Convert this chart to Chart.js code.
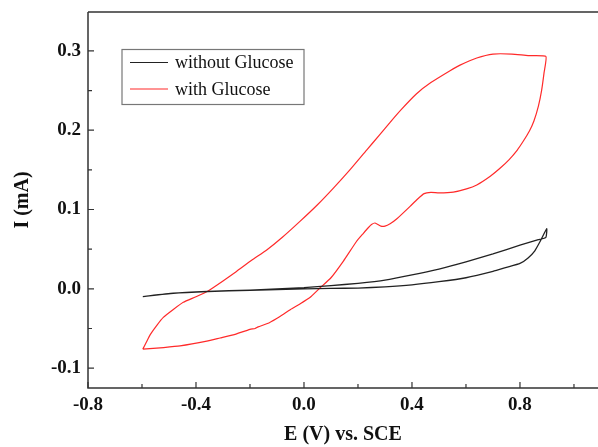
<!DOCTYPE html>
<html>
<head>
<meta charset="utf-8">
<script src="https://cdn.jsdelivr.net/npm/chart.js@4.4.0/dist/chart.umd.min.js"></script>
<style>
  html, body { margin: 0; padding: 0; background: #fff; }
  #wrap { width: 598px; height: 447px; position: relative; }
</style>
</head>
<body>
<div id="wrap"><canvas id="chart"></canvas></div>
<script>
// potentials (V vs. SCE) and currents (mA)
const blankE = [-0.597, -0.484, -0.357, -0.2, 0.0, 0.1, 0.2, 0.3, 0.4, 0.5, 0.6, 0.7, 0.75, 0.8, 0.83, 0.855, 0.875, 0.899,
  0.896, 0.868, 0.8, 0.7, 0.6, 0.5, 0.4, 0.3, 0.2, 0.1, 0.0, -0.2, -0.357, -0.484, -0.597];
const blankI = [-0.0097, -0.0058, -0.0036, -0.0018, 0.0, 0.0005, 0.001, 0.0025, 0.005, 0.009, 0.014, 0.022, 0.027, 0.032, 0.039, 0.048, 0.060, 0.0757,
  0.065, 0.062, 0.055, 0.044, 0.034, 0.025, 0.0175, 0.011, 0.007, 0.004, 0.0015, -0.0015, -0.0033, -0.0055, -0.0097];

const glucoseE = [-0.597, -0.585, -0.570, -0.545, -0.521, -0.484, -0.447, -0.40, -0.357, -0.30, -0.25, -0.194, -0.138, -0.08, -0.015,
  0.05, 0.109, 0.17, 0.232, 0.28, 0.319, 0.36, 0.417, 0.47, 0.541, 0.578, 0.64, 0.70, 0.77, 0.83, 0.896,
  0.889, 0.880, 0.868, 0.852, 0.835, 0.812, 0.790, 0.760, 0.726, 0.690, 0.640, 0.602, 0.553, 0.50, 0.47, 0.445, 0.42,
  0.393, 0.343, 0.319, 0.30, 0.285, 0.263, 0.250, 0.238, 0.22, 0.195, 0.146, 0.10, 0.059, 0.022, -0.015, -0.05, -0.089,
  -0.13, -0.170, -0.181, -0.2, -0.262, -0.311, -0.36, -0.459, -0.52, -0.597];
const glucoseI = [-0.076, -0.068, -0.058, -0.046, -0.036, -0.026, -0.017, -0.010, -0.003, 0.010, 0.022, 0.036, 0.049, 0.065, 0.085,
  0.106, 0.127, 0.150, 0.175, 0.194, 0.210, 0.226, 0.246, 0.260, 0.275, 0.282, 0.291, 0.296, 0.296, 0.294, 0.293,
  0.272, 0.250, 0.230, 0.212, 0.199, 0.186, 0.175, 0.163, 0.152, 0.142, 0.131, 0.126, 0.122, 0.121, 0.1215, 0.120, 0.113,
  0.104, 0.088, 0.082, 0.079, 0.079, 0.083, 0.081, 0.077, 0.070, 0.060, 0.035, 0.014, 0.001, -0.011, -0.019, -0.026, -0.035,
  -0.043, -0.048, -0.050, -0.051, -0.058, -0.062, -0.066, -0.072, -0.074, -0.076];

const seriesNames = ["without Glucose", "with Glucose"];
const xMajor = [-0.8, -0.4, 0.0, 0.4, 0.8];
const xMinor = [-0.6, -0.2, 0.2, 0.6, 1.0];
const yMajor = [-0.1, 0.0, 0.1, 0.2, 0.3];
const yMinor = [-0.05, 0.05, 0.15, 0.25];

const toPts = (xs, ys) => xs.map((x, i) => ({ x: x, y: ys[i] }));
const serif = "'Liberation Serif', 'Times New Roman', serif";
const axisColor = "#333";

// frame, inward ticks and the legend box
const framePlugin = {
  id: "frame",
  afterDraw(chart) {
    const ctx = chart.ctx;
    const a = chart.chartArea;
    const xs = chart.scales.x, ys = chart.scales.y;
    ctx.save();
    ctx.strokeStyle = axisColor;
    ctx.lineWidth = 1.5;
    ctx.beginPath();
    ctx.moveTo(a.left, a.top);
    ctx.lineTo(a.right, a.top);
    ctx.moveTo(a.left, a.top);
    ctx.lineTo(a.left, a.bottom);
    ctx.lineTo(a.right, a.bottom);
    ctx.stroke();

    ctx.lineWidth = 1.2;
    ctx.beginPath();
    xMajor.concat(xMinor).forEach(v => {
      const px = xs.getPixelForValue(v);
      const len = xMajor.includes(v) ? 6 : 4;
      ctx.moveTo(px, a.bottom);
      ctx.lineTo(px, a.bottom - len);
    });
    yMajor.concat(yMinor).forEach(v => {
      const py = ys.getPixelForValue(v);
      const len = yMajor.includes(v) ? 6 : 4;
      ctx.moveTo(a.left, py);
      ctx.lineTo(a.left + len, py);
    });
    ctx.stroke();

    // legend
    ctx.strokeStyle = "#777";
    ctx.lineWidth = 1.2;
    ctx.strokeRect(122, 49.5, 182, 55);
    const rows = [62.5, 89];
    chart.data.datasets.forEach((ds, i) => {
      ctx.strokeStyle = ds.borderColor;
      ctx.lineWidth = 1.2;
      ctx.beginPath();
      ctx.moveTo(130, rows[i]);
      ctx.lineTo(168, rows[i]);
      ctx.stroke();
      ctx.fillStyle = "#111";
      ctx.font = "18px " + serif;
      ctx.textBaseline = "middle";
      ctx.fillText(ds.label, 175, rows[i] + 1);
    });
    ctx.restore();
  }
};

new Chart(document.getElementById("chart"), {
  type: "scatter",
  data: {
    datasets: [
      {
        label: seriesNames[0],
        data: toPts(blankE, blankI),
        showLine: true,
        borderColor: "#222",
        borderWidth: 1.3,
        pointRadius: 0,
        tension: 0.15
      },
      {
        label: seriesNames[1],
        data: toPts(glucoseE, glucoseI),
        showLine: true,
        borderColor: "#ff2a2a",
        borderWidth: 1.2,
        pointRadius: 0,
        tension: 0.15
      }
    ]
  },
  options: {
    responsive: true,
    maintainAspectRatio: false,
    animation: false,
    layout: { padding: { top: 12, right: 0, left: 0, bottom: 0 } },
    plugins: { legend: { display: false }, tooltip: { enabled: false } },
    scales: {
      x: {
        type: "linear",
        min: -0.8,
        max: 1.089,
        afterBuildTicks: s => { s.ticks = xMajor.map(v => ({ value: v })); },
        afterFit: s => { s.height = 59; s.paddingRight = 0; },
        grid: { display: false, drawTicks: false },
        border: { display: false },
        ticks: {
          padding: 6,
          color: "#111",
          font: { family: serif, size: 19, weight: "bold" },
          callback: v => v.toFixed(1)
        },
        title: {
          display: true,
          text: "E (V) vs. SCE",
          color: "#111",
          font: { family: serif, size: 20, weight: "bold" },
          padding: { top: 0, bottom: 0 }
        }
      },
      y: {
        type: "linear",
        min: -0.125,
        max: 0.349,
        afterBuildTicks: s => { s.ticks = yMajor.map(v => ({ value: v })); },
        afterFit: s => { s.width = 88; s.paddingTop = 0; s.paddingBottom = 0; },
        grid: { display: false, drawTicks: false },
        border: { display: false },
        ticks: {
          padding: 7,
          color: "#111",
          font: { family: serif, size: 19, weight: "bold" },
          callback: v => v.toFixed(1)
        },
        title: {
          display: true,
          text: "I (mA)",
          color: "#111",
          font: { family: serif, size: 20, weight: "bold" },
          padding: { top: 11, bottom: 0 }
        }
      }
    }
  },
  plugins: [framePlugin]
});
</script>
</body>
</html>
